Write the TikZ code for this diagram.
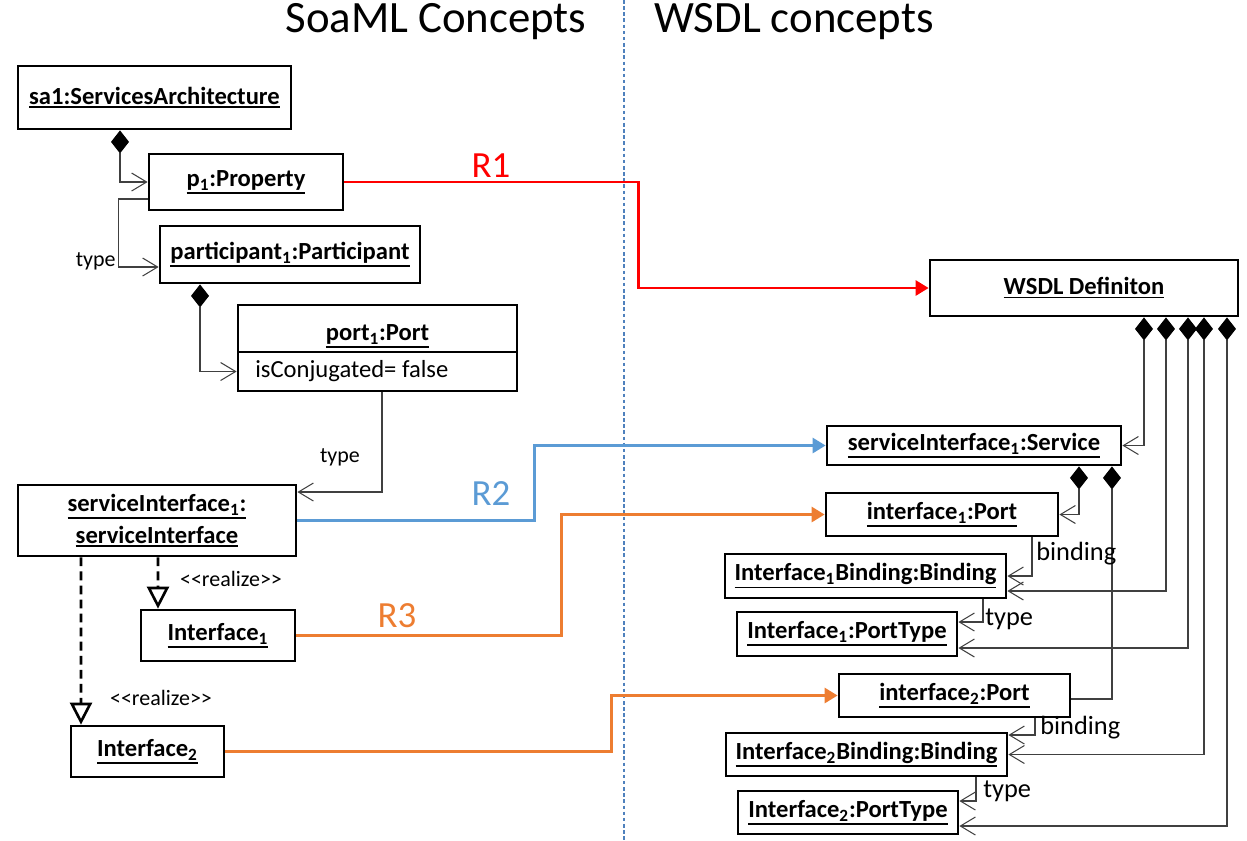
\documentclass[tikz,border=0pt]{standalone}
\usepackage{fontspec}
\setmainfont{Carlito}
\usetikzlibrary{arrows.meta}
\usetikzlibrary{positioning}

\definecolor{relred}{RGB}{255,0,0}
\definecolor{relblue}{RGB}{91,155,213}
\definecolor{relorange}{RGB}{237,125,49}
\definecolor{divblue}{RGB}{79,129,189}

% thick underline for object names
\newcommand{\uln}[1]{\leavevmode\vtop{\hbox{#1}\kern0.9pt\hrule height 1pt}}

\tikzset{
	diam/.tip={Diamond[length=0.46cm, width=0.36cm, black]},
	barb/.tip={Straight Barb[length=0.3cm, width=0.36cm]},
	obj/.style={draw, line width=1.6pt, inner sep=0pt, align=center, font=\fontsize{14}{18}\selectfont\bfseries},
	attr/.style={inner sep=0pt, anchor=west, font=\fontsize{14}{17}\selectfont},
	lbl/.style={inner sep=0pt, font=\fontsize{12.5}{14}\selectfont},
	biglbl/.style={inner sep=0pt, anchor=west, font=\fontsize{15}{18}\selectfont},
	rel/.style={inner sep=0pt, font=\fontsize{21}{24}\selectfont},
	title/.style={inner sep=0pt, font=\fontsize{25.5}{30}\selectfont},
	comp/.style={line width=0.6pt, black!75, {diam}-{barb}},
	assoc/.style={line width=0.6pt, black!75, -{barb}},
	realize/.style={line width=1.5pt, dash pattern=on 5pt off 3pt, -{Triangle[open, length=0.44cm, width=0.44cm, line width=1.5pt]}},
	map/.style={line width=1.6pt, -{Triangle[length=0.26cm, width=0.3cm]}},
}

\begin{document}
\begin{tikzpicture}[x=0.02cm, y=-0.02cm]
	\useasboundingbox (0,0) rectangle (1247,840);
	
	% headings and divider
	\node (soaml) [title] at (436,22) {SoaML Concepts};
	\node (wsdlc) [title] at (794,22) {WSDL concepts};
	\coordinate (divtop) at (624,0);
	\coordinate (divbot) at (624,840);
	\draw[divblue, line width=0.6pt, dash pattern=on 2pt off 1.5pt] (divtop) -- (divbot);
	
	% SoaML side
	\node (sa1) [obj, minimum width=5.46cm, minimum height=1.26cm] at (154.5,97.5) {\uln{sa1:ServicesArchitecture}};
	\node (p1) [obj, minimum width=3.88cm, minimum height=1.12cm] at (246,182) {\uln{p\textsubscript{1}:Property}};
	\node (part1) [obj, minimum width=5.2cm, minimum height=1.14cm] at (290,254.5) {\uln{participant\textsubscript{1}:Participant}};
	\node (port1) [obj, minimum width=5.58cm, minimum height=0.94cm, text height=18pt] at (377.5,328.5) {\uln{port\textsubscript{1}:Port}};
	\node (port1attr) [obj, minimum width=5.58cm, minimum height=0.78cm] at (377.5,371.5) {};
	\node (conj) [attr] at (255,371) {isConjugated= false};
	\node (si1) [obj, minimum width=5.56cm, minimum height=1.42cm] at (157,520.5) {\uln{serviceInterface\textsubscript{1}:}\\\uln{serviceInterface}};
	\node (if1) [obj, minimum width=3.08cm, minimum height=1.02cm] at (218,635.5) {\uln{Interface\textsubscript{1}}};
	\node (if2) [obj, minimum width=3.06cm, minimum height=1.02cm] at (147.5,751.5) {\uln{Interface\textsubscript{2}}};
	
	% WSDL side
	\node (wsdl) [obj, minimum width=6.16cm, minimum height=1.12cm] at (1084,288) {\uln{WSDL Definiton}};
	\node (svc) [obj, minimum width=5.88cm, minimum height=0.78cm] at (974,445.5) {\uln{serviceInterface\textsubscript{1}:Service}};
	\node (ip1) [obj, minimum width=4.64cm, minimum height=0.86cm] at (942,514.5) {\uln{interface\textsubscript{1}:Port}};
	\node (ib1) [obj, minimum width=5.62cm, minimum height=0.88cm] at (865.5,576) {\uln{Interface\textsubscript{1}Binding:Binding}};
	\node (ipt1) [obj, minimum width=4.4cm, minimum height=0.88cm] at (847,634) {\uln{Interface\textsubscript{1}:PortType}};
	\node (ip2) [obj, minimum width=4.62cm, minimum height=0.86cm] at (954.5,695.5) {\uln{interface\textsubscript{2}:Port}};
	\node (ib2) [obj, minimum width=5.62cm, minimum height=0.86cm] at (866.5,754.5) {\uln{Interface\textsubscript{2}Binding:Binding}};
	\node (ipt2) [obj, minimum width=4.4cm, minimum height=0.86cm] at (848,812.5) {\uln{Interface\textsubscript{2}:PortType}};
	
	% SoaML links
	\draw[comp] ([xshift=-0.69cm]sa1.south) |- (p1.west);
	\draw[assoc] ([yshift=-0.34cm]p1.west) -- ++(-29,0) |- ([yshift=-0.25cm]part1.west);
	\node (type1) [lbl, anchor=east] at (116,261) {type};
	\draw[comp] ([xshift=-1.8cm]part1.south) |- (port1attr.west);
	\draw[assoc] ([xshift=0.09cm]port1attr.south) |- ([yshift=0.57cm]si1.east);
	\node (type2) [lbl] at (340,457) {type};
	\draw[realize] ([xshift=0.02cm]si1.south) -- ([xshift=-1.2cm]if1.north);
	\node (real1) [lbl] at (231,579) {<{}<realize>{}>};
	\draw[realize] ([xshift=-1.52cm]si1.south) -- ([xshift=-1.33cm]if2.north);
	\node (real2) [lbl] at (161,698) {<{}<realize>{}>};
	
	% mappings
	\draw[map, relred] (p1.east) -- ++(294,0) |- (wsdl.west);
	\node (r1) [rel, text=relred] at (491,166) {R1};
	\draw[map, relblue] (si1.east) -- ++(237,0) |- (svc.west);
	\node (r2) [rel, text=relblue] at (491,494) {R2};
	\draw[map, relorange] (if1.east) -- ++(265,0) |- (ip1.west);
	\node (r3) [rel, text=relorange] at (397,616) {R3};
	\draw[map, relorange] (if2.east) -- ++(386,0) |- (ip2.west);
	
	% WSDL links
	\draw[comp] ([xshift=1.2cm]wsdl.south) |- (svc.east);
	\draw[comp] ([xshift=1.64cm]wsdl.south) |- ([yshift=-0.3cm]ib1.east);
	\draw[comp] ([xshift=2.08cm]wsdl.south) |- ([yshift=-0.28cm]ipt1.east);
	\draw[comp] ([xshift=2.4cm]wsdl.south) |- (ib2.east);
	\draw[comp] ([xshift=2.86cm]wsdl.south) |- ([yshift=-0.27cm]ipt2.east);
	\draw[comp] ([xshift=2.1cm]svc.south) |- (ip1.east);
	\draw[comp, {diam}-] ([xshift=2.76cm]svc.south) |- ([yshift=-0.07cm]ip2.east);
	\draw[assoc] ([xshift=1.8cm]ip1.south) |- (ib1.east);
	\node (bind1) [biglbl] at (1036,554) {binding};
	\draw[assoc] ([xshift=2.35cm]ib1.south) |- ([yshift=0.24cm]ipt1.east);
	\node (type3) [biglbl] at (985,619) {type};
	\draw[assoc] ([xshift=1.61cm]ip2.south) |- ([yshift=0.39cm]ib2.east);
	\node (bind2) [biglbl] at (1040,728) {binding};
	\draw[assoc] ([xshift=2.19cm]ib2.south) |- ([yshift=0.23cm]ipt2.east);
	\node (type4) [biglbl] at (983,791) {type};
\end{tikzpicture}
\end{document}
